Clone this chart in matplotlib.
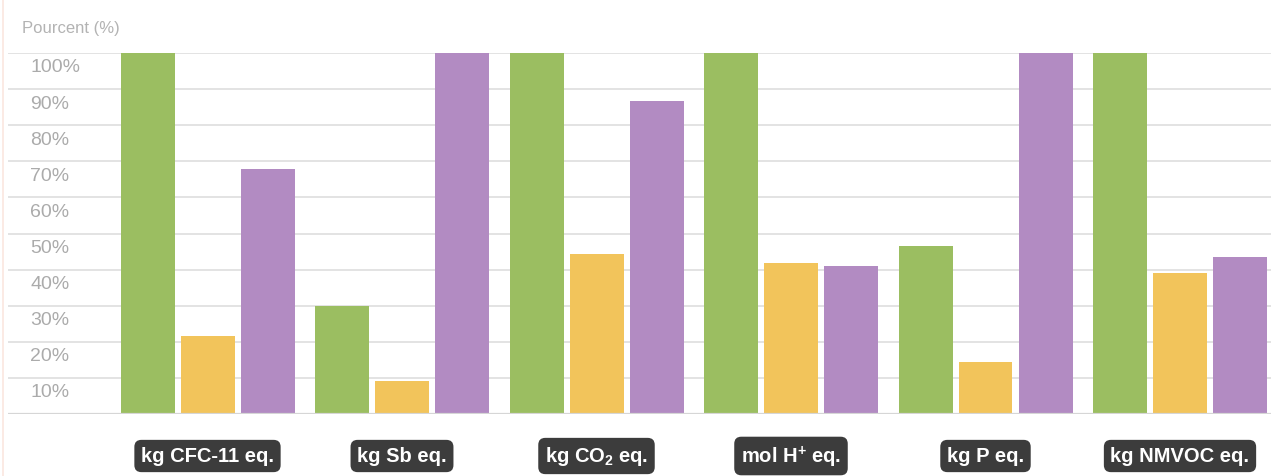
import numpy as np
import matplotlib.pyplot as plt
import matplotlib.transforms as mtransforms

plt.rcParams['font.family'] = ['Liberation Sans', 'DejaVu Sans']
plt.rcParams['mathtext.fontset'] = 'custom'
plt.rcParams['mathtext.rm'] = 'Liberation Sans:bold'
plt.rcParams['mathtext.bf'] = 'Liberation Sans:bold'

categories = ['kg CFC-11 eq.', 'kg Sb eq.', r'kg CO$_2$ eq.', r'mol H$^{+}$ eq.',
              'kg P eq.', 'kg NMVOC eq.']
serie_vert = [100, 29.9, 100, 100, 46.5, 100]
serie_jaune = [21.6, 9.1, 44.3, 41.8, 14.4, 39.1]
serie_violet = [67.9, 100, 86.7, 41.0, 100, 43.5]
yticks = [10, 20, 30, 40, 50, 60, 70, 80, 90, 100]
ytick_labels = [f'{v}%' for v in yticks]

couleurs = ['#9bbe61', '#f2c45b', '#b28bc2']

W, H = 1271, 477
fig = plt.figure(figsize=(W / 100, H / 100), dpi=100)
ax = fig.add_axes([8 / W, (H - 415) / H, (W - 8) / W, 361 / H])

x = np.arange(len(categories))
largeur = 54 / 194.5
pas = 60 / 194.5
for k, (vals, c) in enumerate(zip([serie_vert, serie_jaune, serie_violet], couleurs)):
    ax.bar(x + (k - 1) * pas, vals, width=largeur, color=c, zorder=3)

ax.set_xlim((8 - 207.5) / 194.5, (W - 207.5) / 194.5)
ax.set_ylim(0, 100)

# grille horizontale
for v in yticks:
    ax.axhline(v, color='#e3e3e3', lw=1.4, zorder=1)
ax.axhline(0, color='#d6d6d6', lw=1.6, zorder=4)

for s in ax.spines.values():
    s.set_visible(False)
ax.set_xticks([])
ax.set_yticks([])

# etiquettes de l'axe y, decalees sous la ligne
trans = mtransforms.blended_transform_factory(fig.transFigure, ax.transData)
trans = mtransforms.offset_copy(trans, fig=fig, y=-14, units='dots')
for v, lab in zip(yticks, ytick_labels):
    ax.text(30 / W, v, lab, transform=trans, ha='left', va='center',
            fontsize=14, color='#ababab')

fig.text(22 / W, 1 - 29 / H, 'Pourcent (%)', ha='left', va='center',
         fontsize=12, color='#b3b3b3')

# etiquettes des categories
for i, cat in enumerate(categories):
    ax.text(i, 0, cat, transform=mtransforms.offset_copy(ax.transData, fig=fig, y=-42, units='dots'),
            ha='center', va='center', fontsize=14.5, fontweight='bold', color='white',
            bbox=dict(boxstyle='round,pad=0.33,rounding_size=0.35', fc='#3c3c3c', ec='none'))

# bordure gauche rose pale
fig.add_artist(plt.Line2D([3 / W, 3 / W], [0, 1], color='#fbe6df', lw=1.2))

fig.savefig('out.png', dpi=100)
